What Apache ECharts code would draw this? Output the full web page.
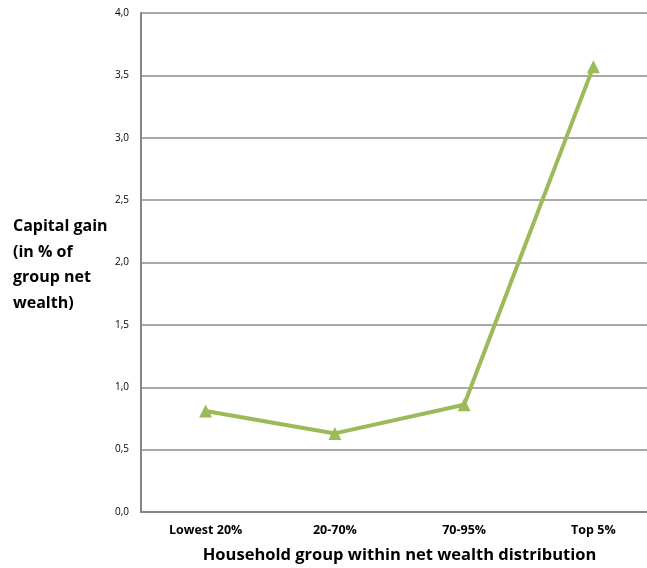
<!DOCTYPE html>
<html>
<head>
<meta charset="utf-8">
<script src="https://cdn.jsdelivr.net/npm/echarts@6/dist/echarts.min.js"></script>
<style>
  html, body { margin: 0; padding: 0; background: #ffffff; }
  #chart { width: 647px; height: 568px; }
</style>
</head>
<body>
<div id="chart"></div>
<script>
// Household groups along the net wealth distribution
const categories = ['Lowest 20%', '20-70%', '70-95%', 'Top 5%'];
// Capital gain as a share of each group's net wealth (%)
const capitalGain = [0.81, 0.63, 0.86, 3.57];
// Value axis ticks
const yTicks = [0, 0.5, 1, 1.5, 2, 2.5, 3, 3.5, 4];

const fontFamily = '"Open Sans", "Noto Sans", sans-serif';
const chart = echarts.init(document.getElementById('chart'), null, { renderer: 'canvas' });

chart.setOption({
  backgroundColor: '#ffffff',
  animation: false,
  grid: { left: 141, right: -11, top: 13, bottom: 56, containLabel: false, outerBoundsMode: 'none' },
  xAxis: {
    type: 'category',
    data: categories,
    boundaryGap: true,
    axisLine: { show: true, lineStyle: { color: '#868686', width: 2 } },
    axisTick: { show: false },
    axisLabel: { color: '#000', fontFamily, fontWeight: 'bold', fontSize: 12.5, margin: 12 },
    name: 'Household group within net wealth distribution',
    nameLocation: 'middle',
    nameGap: 35,
    nameTextStyle: { color: '#000', fontFamily, fontWeight: 'bold', fontSize: 16.5 }
  },
  yAxis: {
    type: 'value',
    min: yTicks[0],
    max: yTicks[yTicks.length - 1],
    interval: 0.5,
    axisLine: { show: true, lineStyle: { color: '#868686', width: 2 } },
    axisTick: { show: false },
    splitLine: { show: true, lineStyle: { color: '#8c8c8c', width: 1.5 } },
    axisLabel: {
      color: '#000', fontFamily, fontSize: 10, margin: 12,
      formatter: v => v.toFixed(1).replace('.', ',')
    }
  },
  graphic: [{
    type: 'text',
    left: 13,
    top: 214,
    style: {
      text: 'Capital gain\n(in % of\ngroup net\nwealth)',
      fill: '#000',
      font: 'bold 16px "Open Sans", "Noto Sans", sans-serif',
      lineHeight: 25.5
    }
  }],
  series: [{
    type: 'line',
    data: capitalGain,
    symbol: 'triangle',
    symbolSize: 13,
    lineStyle: { color: '#9bbb59', width: 4 },
    itemStyle: { color: '#9bbb59' }
  }]
});
</script>
</body>
</html>
